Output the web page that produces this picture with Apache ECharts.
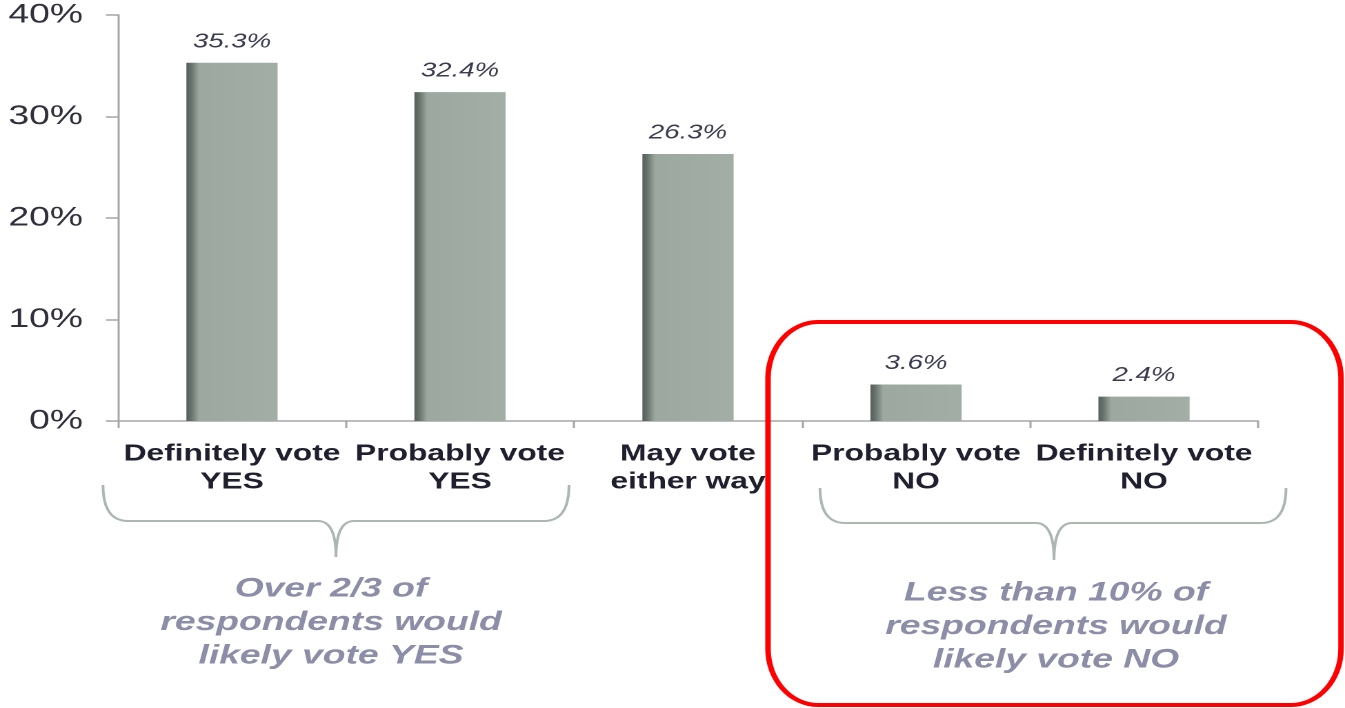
<!DOCTYPE html>
<html><head><meta charset="utf-8">
<script src="https://cdn.jsdelivr.net/npm/echarts@6/dist/echarts.min.js"></script>
<style>
html,body{margin:0;padding:0;overflow:hidden;background:#fff}
#wrap{width:1345px;height:708px;overflow:hidden;position:relative}
#c{width:975px;height:708px;transform:scaleX(1.37949);transform-origin:0 0}
</style>
</head><body><div id="wrap"><div id="c"></div></div>
<script>
// ---- data ----
const categories = ['Definitely vote\nYES', 'Probably vote\nYES', 'May vote\neither way', 'Probably vote\nNO', 'Definitely vote\nNO'];
const shares = [35.3, 32.4, 26.3, 3.6, 2.4];
const yTickLabels = ['0%', '10%', '20%', '30%', '40%'];
const noteYes = 'Over 2/3 of\nrespondents would\nlikely vote YES';
const noteNo = 'Less than 10% of\nrespondents would\nlikely vote NO';

// horizontal stretch factor of the page (reference text is widened)
const S = 1345 / 975;
const FF = '"Liberation Sans", Arial, Helvetica, sans-serif';
const px = x => x / S;

// sample quadratic bezier into points
function quad(p0, p1, p2, n, out) {
  for (let i = 1; i <= n; i++) {
    const t = i / n, a = (1 - t) * (1 - t), b = 2 * (1 - t) * t, c = t * t;
    out.push([a * p0[0] + b * p1[0] + c * p2[0], a * p0[1] + b * p1[1] + c * p2[1]]);
  }
}
function bracePoints(x0, x1, yTop, yMid, tipX, yTip) {
  const r = 25, pts = [[px(x0), yTop]];
  quad([px(x0), yTop], [px(x0), yMid], [px(x0 + r), yMid], 12, pts);
  pts.push([px(tipX - 18), yMid]);
  quad([px(tipX - 18), yMid], [px(tipX), yMid], [px(tipX), yTip], 12, pts);
  quad([px(tipX), yTip], [px(tipX), yMid], [px(tipX + 18), yMid], 12, pts);
  pts.push([px(x1 - r), yMid]);
  quad([px(x1 - r), yMid], [px(x1), yMid], [px(x1), yTop], 12, pts);
  return pts;
}
function roundRectPoints(X0, X1, y0, y1, RX, ry) {
  const x0 = px(X0), x1 = px(X1), rx = px(RX), pts = [];
  const arc = (cx, cy, a0, a1) => {
    for (let i = 0; i <= 16; i++) {
      const a = a0 + (a1 - a0) * i / 16;
      pts.push([cx + rx * Math.cos(a), cy + ry * Math.sin(a)]);
    }
  };
  arc(x1 - rx, y0 + ry, -Math.PI / 2, 0);
  arc(x1 - rx, y1 - ry, 0, Math.PI / 2);
  arc(x0 + rx, y1 - ry, Math.PI / 2, Math.PI);
  arc(x0 + rx, y0 + ry, Math.PI, Math.PI * 1.5);
  return pts;
}

const chart = echarts.init(document.getElementById('c'), null, { renderer: 'canvas', devicePixelRatio: 2 });
chart.setOption({
  animation: false,
  backgroundColor: '#ffffff',
  grid: { left: px(118), right: 975 - px(1258), top: 15, bottom: 287 },
  xAxis: {
    type: 'category',
    data: categories,
    boundaryGap: true,
    axisLine: { lineStyle: { color: '#a6a6a6', width: 1.5 } },
    axisTick: { show: true, length: 7, alignWithLabel: false, lineStyle: { color: '#a6a6a6', width: 1.5 } },
    axisLabel: { interval: 0, margin: 19, fontFamily: FF, fontWeight: 'bold', fontSize: 23, lineHeight: 28, color: '#1f1f2e' }
  },
  yAxis: {
    type: 'value',
    min: 0, max: 40, interval: 10,
    splitLine: { show: false },
    axisLine: { show: true, lineStyle: { color: '#a6a6a6', width: 1.5 } },
    axisTick: { show: true, length: px(12), inside: false, lineStyle: { color: '#a6a6a6', width: 1.5 } },
    axisLabel: {
      margin: px(35), fontFamily: FF, fontSize: 27, color: '#30303d', padding: [5, 0, 0, 0],
      formatter: v => yTickLabels[Math.round(v / 10)]
    }
  },
  series: [{
    type: 'bar',
    data: shares,
    barWidth: '40%',
    itemStyle: {
      color: {
        type: 'linear', x: 0, y: 0, x2: 1, y2: 0,
        colorStops: [
          { offset: 0, color: '#56605b' },
          { offset: 0.05, color: '#66716b' },
          { offset: 0.14, color: '#9ca8a0' },
          { offset: 1, color: '#a3afa6' }
        ]
      }
    },
    label: {
      show: true, position: 'top', distance: 11,
      fontFamily: FF, fontStyle: 'italic', fontSize: 20, color: '#3b3b4f',
      formatter: p => p.value.toFixed(1) + '%'
    }
  }],
  graphic: [
    { type: 'polyline', shape: { points: bracePoints(103, 569, 485, 521, 336, 557) },
      style: { fill: null, stroke: '#abb7b0', lineWidth: 2 } },
    { type: 'polyline', shape: { points: bracePoints(820, 1286, 488, 523, 1054, 560) },
      style: { fill: null, stroke: '#abb7b0', lineWidth: 2 } },
    { type: 'text', x: px(331), y: 589 - 16.75,
      style: { text: noteYes, fontFamily: FF, fontSize: 27, fontWeight: 'bold', fontStyle: 'italic',
        fill: '#8c8da7', textAlign: 'center', textVerticalAlign: 'top', verticalAlign: 'top', lineHeight: 33.5 } },
    { type: 'text', x: px(1056), y: 593 - 16.75,
      style: { text: noteNo, fontFamily: FF, fontSize: 27, fontWeight: 'bold', fontStyle: 'italic',
        fill: '#8c8da7', textAlign: 'center', textVerticalAlign: 'top', verticalAlign: 'top', lineHeight: 33.5 } },
    { type: 'polygon', z: 100, shape: { points: roundRectPoints(768, 1341, 322, 705, 50, 56) },
      style: { fill: null, stroke: '#ff0000', lineWidth: 4 } }
  ]
});
</script>
</body></html>
